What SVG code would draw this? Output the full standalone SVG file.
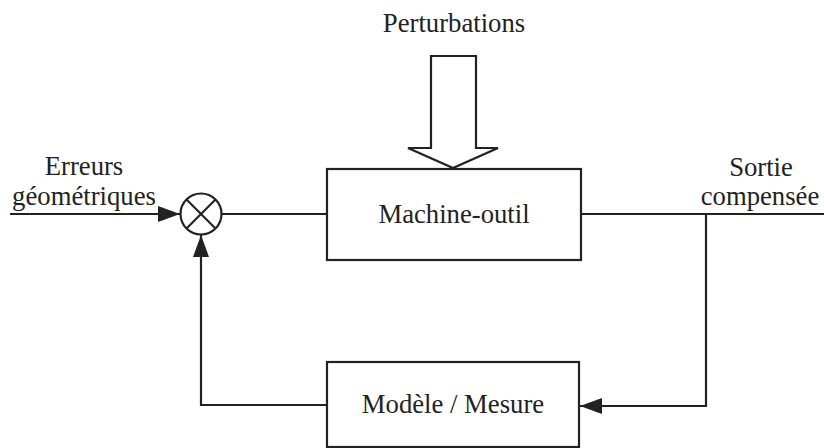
<svg xmlns="http://www.w3.org/2000/svg" width="824" height="448" viewBox="0 0 824 448">
<style>
.box{fill:#fff;stroke:#222;stroke-width:2.2}
.ln{fill:none;stroke:#222;stroke-width:2.2}
.t{font-family:"Liberation Serif","Times New Roman",serif;font-size:26.7px;fill:#222;text-anchor:middle}
</style>
<defs>
<marker id="ah" viewBox="0 0 22 16" refX="22" refY="8" markerWidth="22" markerHeight="16" markerUnits="userSpaceOnUse" orient="auto">
<path d="M0,0 L22,8 L0,16 Z" fill="#222"/>
</marker>
</defs>
<rect width="824" height="448" fill="#fff"/>
<g id="connectors">
<line class="ln" x1="10" y1="214" x2="180" y2="214" marker-end="url(#ah)"/>
<line class="ln" x1="221" y1="214" x2="327" y2="214"/>
<line class="ln" x1="581" y1="214" x2="824" y2="214"/>
<polyline class="ln" points="706,214 706,406 580,406" marker-end="url(#ah)"/>
<polyline class="ln" points="327,405 201,405 201,235" marker-end="url(#ah)"/>
</g>
<g id="perturbations">
<text class="t" x="454" y="32">Perturbations</text>
<polygon class="box" points="431,56 476,56 476,148 498,148 453,168 408,148 431,148"/>
</g>
<g id="machine">
<rect class="box" x="327" y="169" width="254" height="91"/>
<text class="t" x="454" y="223">Machine-outil</text>
</g>
<g id="modele">
<rect class="box" x="327" y="362" width="252" height="85"/>
<text class="t" x="453" y="413">Modèle / Mesure</text>
</g>
<g id="sum">
<circle class="box" cx="201" cy="214" r="20.5"/>
<line class="ln" x1="186.5" y1="199.5" x2="215.5" y2="228.5"/>
<line class="ln" x1="215.5" y1="199.5" x2="186.5" y2="228.5"/>
</g>
<g id="input-label">
<text class="t" x="84" y="175">Erreurs</text>
<text class="t" x="84" y="205">géométriques</text>
</g>
<g id="output-label">
<text class="t" x="761" y="176">Sortie</text>
<text class="t" x="760" y="205">compensée</text>
</g>
</svg>
